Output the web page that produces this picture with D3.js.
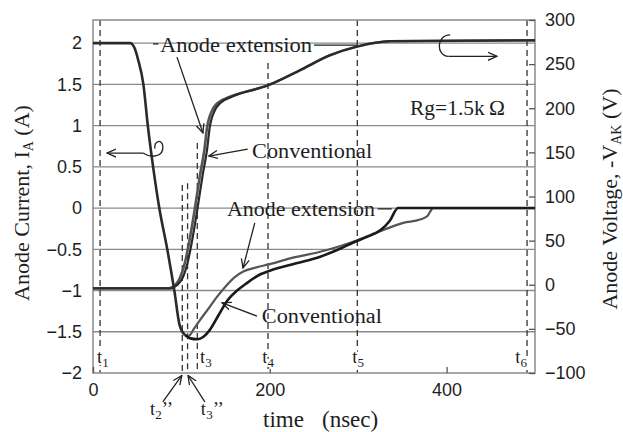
<!DOCTYPE html>
<html>
<head>
<meta charset="utf-8">
<script src="https://cdn.jsdelivr.net/npm/d3@7"></script>
<style>
body { margin: 0; background: #fff; }
svg { display: block; }
text { fill: #1e1e1e; }
.tick text { font-family: "Liberation Sans", Arial, sans-serif; font-size: 18px; fill: #1e1e1e; }
.serif { font-family: "Liberation Serif", "Times New Roman", serif; }
.halo { stroke: #fff; stroke-width: 4px; paint-order: stroke; }
</style>
</head>
<body>
<svg id="chart"></svg>
<script>
var margin = {top: 20, right: 88, bottom: 59, left: 93},
    W = 623, H = 432,
    width = W - margin.left - margin.right,
    height = H - margin.top - margin.bottom;

// ---- data (time in nsec) ----
var currentTicks = [-2, -1.5, -1, -0.5, 0, 0.5, 1, 1.5, 2];
var voltageTicks = [-100, -50, 0, 50, 100, 150, 200, 250, 300];
var timeTicks = [0, 200, 400];

// turn-off: common part of the anode current
var dropT = [0, 42, 47, 51, 57, 62, 68, 75, 84, 92, 98, 104];
var dropI = [2, 2, 1.94, 1.8, 1.5, 1.0, 0.5, 0, -0.5, -1.0, -1.42, -1.54];

// reverse recovery, anode extension
var extCurT = [104, 108, 115, 125, 132, 140, 150, 160, 170, 185, 200, 223, 257, 280, 299, 325, 351, 370, 378, 385, 500];
var extCurI = [-1.54, -1.55, -1.45, -1.3, -1.2, -1.08, -0.95, -0.84, -0.77, -0.72, -0.68, -0.61, -0.53, -0.46, -0.39, -0.28, -0.18, -0.14, -0.1, 0, 0];

// reverse recovery, conventional
var convCurT = [104, 110, 118, 125, 132, 142, 152, 163, 174, 190, 200, 230, 257, 280, 294, 310, 325, 336, 345, 500];
var convCurI = [-1.54, -1.58, -1.59, -1.56, -1.48, -1.3, -1.12, -1.0, -0.91, -0.8, -0.76, -0.67, -0.59, -0.49, -0.42, -0.35, -0.27, -0.15, 0, 0];

// anode voltage -VAK
var extVolT = [0, 86, 93, 98, 104, 110, 115, 121, 126, 129, 135, 141, 155, 198, 234, 268, 299, 336, 500];
var extVolV = [-4, -4, -0.5, 7, 25, 55, 85, 124, 153, 178, 198, 206, 213, 226, 243, 260, 270, 276, 277];
var convVolT = [0, 88, 95, 101, 107, 113, 118, 124, 129, 132, 138, 144, 157, 198, 234, 268, 299, 336, 500];
var convVolV = [-4, -4, -0.5, 7, 25, 55, 85, 124, 153, 178, 198, 206, 213, 226, 243, 260, 270, 276, 277];

// time markers t1 .. t6 (with the current value where each dashed line starts)
var markerT = [8, 101, 107, 118, 198, 299, 491];
var markerTop = [2.28, 0.28, 0.3, 0.79, 1.76, 2.28, 2.28];

var svg = d3.select("#chart")
    .attr("width", W)
    .attr("height", H);

var defs = svg.append("defs");
defs.append("marker")
    .attr("id", "head")
    .attr("viewBox", "0 -5 10 10")
    .attr("refX", 9).attr("refY", 0)
    .attr("markerWidth", 10).attr("markerHeight", 10)
    .attr("markerUnits", "userSpaceOnUse")
    .attr("orient", "auto")
  .append("path")
    .attr("d", "M0,-4L9,0L0,4")
    .attr("fill", "none")
    .attr("stroke", "#222")
    .attr("stroke-width", 1.3);

var g = svg.append("g")
    .attr("transform", "translate(" + margin.left + "," + margin.top + ")");

var x = d3.scaleLinear().domain([0, 500]).range([0, width]);
var yI = d3.scaleLinear().domain([-2, 2.28]).range([height, 0]);
var yV = d3.scaleLinear().domain([-100, 300]).range([height, 0]);

// grid
g.selectAll(".grid")
    .data(currentTicks.filter(function(d) { return d > -2; }))
  .enter().append("line")
    .attr("class", "grid")
    .attr("x1", 0).attr("x2", width)
    .attr("y1", function(d) { return yI(d); })
    .attr("y2", function(d) { return yI(d); })
    .attr("stroke", "#8a8a8a")
    .attr("stroke-width", 1.3);

// dashed time markers
g.selectAll(".marker")
    .data(markerT)
  .enter().append("line")
    .attr("class", "marker")
    .attr("x1", function(d) { return x(d); })
    .attr("x2", function(d) { return x(d); })
    .attr("y1", function(d, i) { return yI(markerTop[i]); })
    .attr("y2", height)
    .attr("stroke", "#333")
    .attr("stroke-width", 1.3)
    .attr("stroke-dasharray", "6,4");

// frame
g.append("rect")
    .attr("width", width).attr("height", height)
    .attr("fill", "none")
    .attr("stroke", "#8a8a8a")
    .attr("stroke-width", 1.5);

// axes
var leftAxis = g.append("g")
    .call(d3.axisLeft(yI).tickValues(currentTicks).tickSize(0).tickPadding(11).tickFormat(d3.format("")));
var rightAxis = g.append("g")
    .attr("transform", "translate(" + width + ",0)")
    .call(d3.axisRight(yV).tickValues(voltageTicks).tickSize(-6).tickPadding(10).tickFormat(d3.format("")));
var bottomAxis = g.append("g")
    .attr("transform", "translate(0," + height + ")")
    .call(d3.axisBottom(x).tickValues(timeTicks).tickSize(-6).tickPadding(10));
[leftAxis, rightAxis, bottomAxis].forEach(function(a) {
  a.select(".domain").remove();
  a.selectAll(".tick line").attr("stroke", "#555").attr("stroke-width", 1.3);
});
bottomAxis.selectAll(".tick text").attr("dy", "0.71em");

// curves
var lineI = d3.line()
    .x(function(d) { return x(d[0]); })
    .y(function(d) { return yI(d[1]); })
    .curve(d3.curveMonotoneX);
var lineV = d3.line()
    .x(function(d) { return x(d[0]); })
    .y(function(d) { return yV(d[1]); })
    .curve(d3.curveMonotoneX);

g.append("path").attr("d", lineV(d3.zip(extVolT, extVolV)))
    .attr("fill", "none").attr("stroke", "#555").attr("stroke-width", 2.6);
g.append("path").attr("d", lineV(d3.zip(convVolT, convVolV)))
    .attr("fill", "none").attr("stroke", "#2a2a2a").attr("stroke-width", 2.2);
g.append("path").attr("d", lineI(d3.zip(dropT, dropI)))
    .attr("fill", "none").attr("stroke", "#2a2a2a").attr("stroke-width", 2.6);
g.append("path").attr("d", lineI(d3.zip(extCurT, extCurI)))
    .attr("fill", "none").attr("stroke", "#555").attr("stroke-width", 2.2);
g.append("path").attr("d", lineI(d3.zip(convCurT, convCurI)))
    .attr("fill", "none").attr("stroke", "#1a1a1a").attr("stroke-width", 2.6);

// annotations (placed in data coordinates)
function label(t, v, txt, len, anchor) {
  var el = g.append("text")
      .attr("class", "serif")
      .attr("x", x(t)).attr("y", yI(v))
      .attr("font-size", 20)
      .attr("text-anchor", anchor || "start")
      .text(txt);
  if (len) el.attr("textLength", len).attr("lengthAdjust", "spacingAndGlyphs");
  return el;
}
function seg(t1, v1, t2, v2, arrow) {
  var l = g.append("line")
      .attr("x1", x(t1)).attr("y1", yI(v1))
      .attr("x2", x(t2)).attr("y2", yI(v2))
      .attr("stroke", "#222").attr("stroke-width", 1.3);
  if (arrow) l.attr("marker-end", "url(#head)");
}

label(75.8, 1.89, "Anode extension", 152);
seg(68, 1.99, 74, 1.99);
seg(250, 1.975, 299, 1.975);
seg(95, 1.83, 124.4, 0.91, true);

label(180, 0.61, "Conventional", 120);
seg(175, 0.715, 131, 0.63, true);

label(358.6, 1.127, "Rg=1.5k\u2009\u03a9", 95);

label(151.6, -0.097, "Anode extension", 148);
seg(322, -0.01, 338, -0.01);
seg(183, -0.18, 169.7, -0.727, true);

label(191, -1.39, "Conventional", 120);
seg(185.5, -1.31, 146, -1.15, true);

// curly arrows showing which axis each curve uses
var curl = d3.path();
curl.moveTo(x(56.6), yI(0.667));
curl.bezierCurveTo(x(66), yI(0.6), x(80), yI(0.62), x(79), yI(0.75));
curl.bezierCurveTo(x(78), yI(0.84), x(69), yI(0.82), x(70), yI(0.72));
g.append("path").attr("d", curl.toString())
    .attr("fill", "none").attr("stroke", "#222").attr("stroke-width", 1.3);
seg(56.6, 0.667, 15.8, 0.667, true);

var curl2 = d3.path();
curl2.moveTo(x(404), yI(2.1));
curl2.bezierCurveTo(x(388), yI(2.1), x(388), yI(1.84), x(402), yI(1.84));
g.append("path").attr("d", curl2.toString())
    .attr("fill", "none").attr("stroke", "#222").attr("stroke-width", 1.3);
seg(402, 1.84, 457, 1.84, true);

// time marker labels
function tlab(t, v, sub, suffix, anchor) {
  var el = g.append("text")
      .attr("class", "serif halo")
      .attr("x", x(t)).attr("y", yI(v))
      .attr("font-size", 19)
      .attr("text-anchor", anchor || "start");
  el.append("tspan").text("t");
  el.append("tspan").attr("font-size", 13).attr("dy", 4).text(sub);
  if (suffix) el.append("tspan").attr("dy", -4).text(suffix);
}
tlab(4.5, -1.88, "1");
tlab(121, -1.88, "3");
tlab(198, -1.88, "4", null, "middle");
tlab(300, -1.88, "5", null, "middle");
tlab(491, -1.88, "6", null, "end");
tlab(64.5, -2.51, "2", "\u2019\u2019");
tlab(122, -2.51, "3", "\u2019\u2019");
seg(79, -2.35, 100.5, -2.03, true);
seg(126.5, -2.35, 107.5, -2.03, true);

// axis titles
var lt = svg.append("text")
    .attr("class", "serif")
    .attr("font-size", 22)
    .attr("text-anchor", "middle")
    .attr("transform", "translate(29,203) rotate(-90)");
lt.append("tspan").text("Anode Current, I");
lt.append("tspan").attr("font-size", 14).attr("dy", 4).text("A");
lt.append("tspan").attr("dy", -4).text(" (A)");

var rt = svg.append("text")
    .attr("class", "serif")
    .attr("font-size", 22)
    .attr("text-anchor", "middle")
    .attr("transform", "translate(617,199) rotate(-90)");
rt.append("tspan").text("Anode Voltage, -V");
rt.append("tspan").attr("font-size", 14).attr("dy", 4).text("AK");
rt.append("tspan").attr("dy", -4).text(" (V)");

svg.append("text")
    .attr("class", "serif")
    .attr("font-size", 23)
    .attr("x", 263).attr("y", 427)
    .text("time");
svg.append("text")
    .attr("class", "serif")
    .attr("font-size", 23)
    .attr("x", 322).attr("y", 427)
    .text("(nsec)");
</script>
</body>
</html>
